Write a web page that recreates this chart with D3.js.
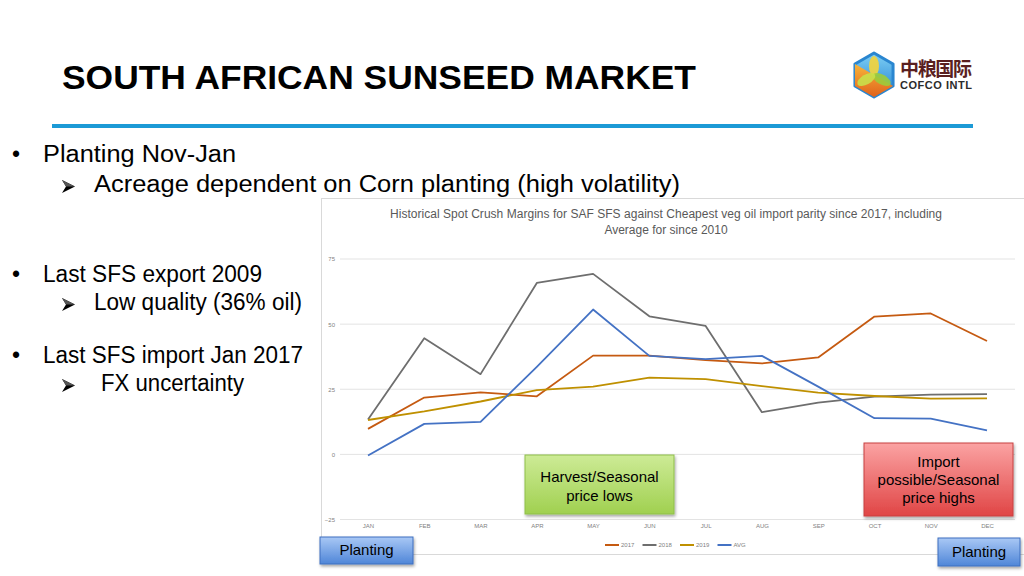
<!DOCTYPE html>
<html>
<head>
<meta charset="utf-8">
<script src="https://cdn.jsdelivr.net/npm/d3@7"></script>
<style>
  body { margin: 0; background: #fff; }
  svg { display: block; font-family: "Liberation Sans", Arial, sans-serif; }
</style>
</head>
<body>
<div id="slide"></div>
<script>
const months = ["JAN", "FEB", "MAR", "APR", "MAY", "JUN", "JUL", "AUG", "SEP", "OCT", "NOV", "DEC"];
const seriesNames = ["2017", "2018", "2019", "AVG"];
const values2017 = [9.8, 21.8, 23.8, 22.3, 37.9, 37.9, 36.2, 34.9, 37.2, 52.9, 54.1, 43.5];
const values2018 = [13.4, 44.6, 30.8, 65.8, 69.3, 53.0, 49.3, 16.2, 19.9, 22.2, 22.9, 23.1];
const values2019 = [13.2, 16.5, 20.3, 24.7, 26.0, 29.5, 28.9, 26.2, 23.7, 22.4, 21.4, 21.5];
const valuesAvg = [-0.4, 11.7, 12.5, 33.6, 55.6, 37.8, 36.6, 37.8, 26.0, 13.9, 13.7, 9.2];
const yTicks = [-25, 0, 25, 50, 75];
const colors = ["#C55A11", "#6E6E6E", "#BF9000", "#4472C4"];

const bullets = [
  { level: 0, text: "Planting Nov-Jan", y: 162, w: 193 },
  { level: 1, text: "Acreage dependent on Corn planting (high volatility)", y: 192, w: 586 },
  { level: 0, text: "Last SFS export 2009", y: 282, w: 219 },
  { level: 1, text: "Low quality (36% oil)", y: 310, w: 208 },
  { level: 0, text: "Last SFS import Jan 2017", y: 363, w: 260 },
  { level: 1, text: "FX uncertainty", y: 391, w: 143, dx: 7 }
];

const W = 1024, H = 576;
const svg = d3.select("#slide").append("svg").attr("width", W).attr("height", H);
const defs = svg.append("defs");

function grad(id, c1, c2) {
  const g = defs.append("linearGradient").attr("id", id)
    .attr("x1", 0).attr("y1", 0).attr("x2", 0).attr("y2", 1);
  g.append("stop").attr("offset", "0%").attr("stop-color", c1);
  g.append("stop").attr("offset", "100%").attr("stop-color", c2);
}
grad("gGreen", "#cdeb96", "#a0d050");
grad("gRed", "#fba3a3", "#e04545");
grad("gBlue", "#a9c8f5", "#4f86d8");
grad("gTop", "#7fd0f5", "#1f7fd0");
grad("gBot", "#f7b53a", "#e0621c");

const shadow = defs.append("filter").attr("id", "sh").attr("x", "-10%").attr("y", "-10%")
  .attr("width", "130%").attr("height", "140%");
shadow.append("feDropShadow").attr("dx", 1).attr("dy", 2).attr("stdDeviation", 1.5)
  .attr("flood-color", "#000").attr("flood-opacity", 0.35);

// title + rule
svg.append("text").attr("x", 62).attr("y", 89)
  .style("font-size", "34px").style("font-weight", "bold").attr("fill", "#000")
  .attr("textLength", 634).attr("lengthAdjust", "spacingAndGlyphs")
  .text("SOUTH AFRICAN SUNSEED MARKET");
svg.append("rect").attr("x", 52).attr("y", 124).attr("width", 921).attr("height", 4)
  .attr("fill", "#1C9AD6");

// logo
const logo = svg.append("g").attr("transform", "translate(874,75)");
const hex = d3.range(6).map(i => {
  const a = Math.PI / 6 + i * Math.PI / 3;
  return [22 * Math.cos(a), 22 * Math.sin(a)];
});
logo.append("path").attr("d", "M" + hex.map(p => p.join(",")).join("L") + "Z")
  .attr("fill", "url(#gTop)").attr("stroke", "#2a86d0").attr("stroke-linejoin", "round").attr("stroke-width", 3);
logo.append("path")
  .attr("d", `M0,0 L${hex[0].join(",")} L${hex[1].join(",")} L${hex[2].join(",")} L${hex[3].join(",")} Z`)
  .attr("fill", "url(#gBot)");
[[-90, "#f5d43a"], [30, "#9ccc3a"], [150, "#c9e04a"]].forEach(([ang, c]) => {
  logo.append("ellipse").attr("cx", 0).attr("cy", -9).attr("rx", 5).attr("ry", 10)
    .attr("transform", `rotate(${ang + 90})`).attr("fill", c).attr("opacity", 0.9);
});
svg.append("text").attr("x", 900).attr("y", 76)
  .style("font-family", "'Noto Sans CJK SC', sans-serif").style("font-size", "19px").style("font-weight", "bold")
  .attr("fill", "#5a1f1f").attr("textLength", 72).text("中粮国际");
svg.append("text").attr("x", 900).attr("y", 89)
  .style("font-size", "11px").style("font-weight", "bold").attr("fill", "#2b2b2b")
  .attr("textLength", 72).text("COFCO INTL");

// bullets
const bl = svg.append("g").style("font-size", "23px").attr("fill", "#000");
bullets.forEach(b => {
  if (b.level === 0) {
    bl.append("text").attr("x", 16).attr("y", b.y).attr("text-anchor", "middle").text("•");
    bl.append("text").attr("x", 43).attr("y", b.y)
      .attr("textLength", b.w).attr("lengthAdjust", "spacingAndGlyphs").text(b.text);
  } else {
    // arrowhead bullet
    const t = b.y - 12;
    bl.append("path")
      .attr("d", `M62,${t} L75,${t + 6.5} L62,${t + 13} L66,${t + 6.5} Z`)
      .attr("fill", "#000");
    bl.append("path")
      .attr("d", `M62,${t} L75,${t + 6.5} L66,${t + 6.5} Z`)
      .attr("fill", "#555");
    bl.append("text").attr("x", 94 + (b.dx || 0)).attr("y", b.y)
      .attr("textLength", b.w).attr("lengthAdjust", "spacingAndGlyphs").text(b.text);
  }
});

// chart frame
svg.append("rect").attr("x", 321.5).attr("y", 198.5).attr("width", 710).attr("height", 356)
  .attr("fill", "#fff").attr("stroke", "#d9d9d9");

const ct = svg.append("text").attr("text-anchor", "middle").attr("fill", "#595959")
  .style("font-size", "12px");
ct.append("tspan").attr("x", 666).attr("y", 218).attr("textLength", 552)
  .text("Historical Spot Crush Margins for SAF SFS against Cheapest veg oil import parity since 2017, including");
ct.append("tspan").attr("x", 666).attr("y", 234).text("Average for since 2010");

const x = d3.scalePoint().domain(months).range([368, 987]);
const y = d3.scaleLinear().domain([-25, 75]).range([519.5, 259]);

// gridlines
svg.append("g").selectAll("line").data(yTicks).enter().append("line")
  .attr("x1", 340).attr("x2", 1015)
  .attr("y1", d => y(d)).attr("y2", d => y(d))
  .attr("stroke", "#e3e3e3").attr("stroke-width", 1);

// y axis labels
const yAxis = svg.append("g").attr("transform", "translate(340,0)")
  .call(d3.axisLeft(y).tickValues(yTicks).tickSize(0).tickPadding(5));
yAxis.select(".domain").remove();
yAxis.selectAll("text").attr("fill", "#7f7f7f").style("font-size", "6px")
  .style("font-family", "'Liberation Sans Narrow', 'Liberation Sans', sans-serif");

// x axis labels
const xAxis = svg.append("g").attr("transform", "translate(0,524)")
  .call(d3.axisBottom(x).tickSize(0).tickPadding(0));
xAxis.select(".domain").remove();
xAxis.selectAll("text").attr("fill", "#7f7f7f").style("font-size", "6px")
  .style("font-family", "'Liberation Sans Narrow', 'Liberation Sans', sans-serif");

// lines
const allSeries = [values2017, values2018, values2019, valuesAvg];
const line = d3.line().x((d, i) => x(months[i])).y(d => y(d));
svg.append("g").selectAll("path").data(allSeries).enter().append("path")
  .attr("d", line).attr("fill", "none")
  .attr("stroke", (d, i) => colors[i]).attr("stroke-width", 1.8)
  .attr("stroke-linejoin", "round");

// legend
const lg = svg.append("g").selectAll("g").data(seriesNames).enter().append("g")
  .attr("transform", (d, i) => `translate(${605 + i * 37.5},545)`);
lg.append("line").attr("x1", 0).attr("x2", 14).attr("y1", 0).attr("y2", 0)
  .attr("stroke", (d, i) => colors[i]).attr("stroke-width", 2);
lg.append("text").attr("x", 16).attr("y", 2.2).attr("fill", "#7f7f7f")
  .style("font-size", "6px").style("font-family", "'Liberation Sans Narrow', 'Liberation Sans', sans-serif")
  .text(d => d);

// callout boxes
function box(x0, y0, w, h, fill, stroke, lines, ys, fs) {
  svg.append("rect").attr("x", x0).attr("y", y0).attr("width", w).attr("height", h)
    .attr("fill", fill).attr("stroke", stroke).attr("stroke-width", 1).attr("filter", "url(#sh)");
  const t = svg.append("text").attr("text-anchor", "middle").attr("fill", "#000")
    .style("font-size", fs + "px");
  lines.forEach((l, i) => t.append("tspan").attr("x", x0 + w / 2).attr("y", ys[i]).text(l));
}
box(525, 455, 149, 59, "url(#gGreen)", "#8fbf4a", ["Harvest/Seasonal", "price lows"], [482, 501], 15);
box(864, 443, 149, 73, "url(#gRed)", "#c84040", ["Import", "possible/Seasonal", "price highs"], [467, 485, 503], 15);
box(320, 537, 93, 27, "url(#gBlue)", "#3f6fbf", ["Planting"], [555], 15);
box(938, 538, 82, 28, "url(#gBlue)", "#3f6fbf", ["Planting"], [557], 15);
</script>
</body>
</html>
